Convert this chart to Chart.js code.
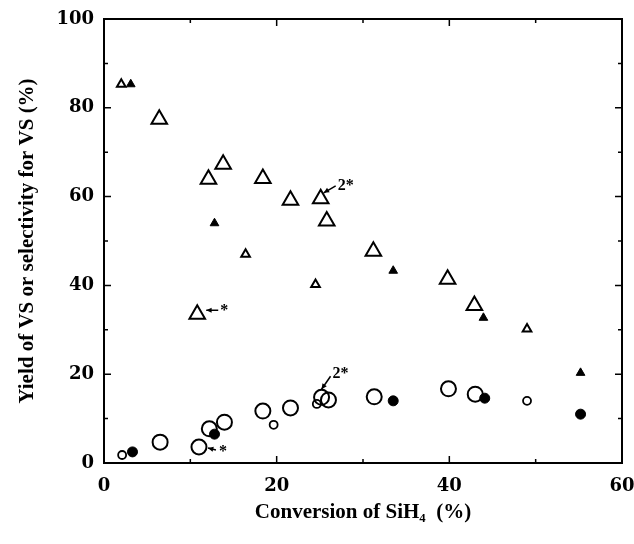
<!DOCTYPE html>
<html>
<head>
<meta charset="utf-8">
<title>Yield of VS vs conversion of SiH4</title>
<script src="https://cdn.jsdelivr.net/npm/chart.js@4"></script>
<style>
    body { margin: 0; background: #fff; }
    canvas { display: block; }
</style>
</head>
<body>
<canvas id="chart" width="634" height="544"></canvas>
<script>
"use strict"

// selectivity for VS (triangles)
var bigTriX    = [6.4, 12.1, 13.8, 18.4, 21.6, 25.1, 25.8, 31.2, 39.8, 42.9, 10.8];
var bigTriY    = [77.4, 63.9, 67.3, 64.1, 59.2, 59.5, 54.5, 47.7, 41.4, 35.5, 33.5];
var smallTriX  = [2.0, 16.4, 24.5, 49.0];
var smallTriY  = [85.3, 47.0, 40.2, 30.2];
var filledTriX = [3.1, 12.8, 33.5, 43.95, 55.2];
var filledTriY = [85.3, 54.0, 43.3, 32.7, 20.3];

// yield of VS (circles)
var bigCircX    = [6.5, 12.2, 13.95, 18.4, 21.6, 25.2, 26.0, 31.3, 39.9, 43.0, 11.0];
var bigCircY    = [4.7, 7.7, 9.2, 11.7, 12.4, 14.8, 14.2, 14.9, 16.7, 15.5, 3.6];
var smallCircX  = [2.1, 19.65, 24.65, 49.0];
var smallCircY  = [1.8, 8.6, 13.3, 14.0];
var filledCircX = [3.3, 12.8, 33.5, 44.1, 55.2];
var filledCircY = [2.5, 6.5, 14.0, 14.6, 11.0];

var xTicks = [0, 20, 40, 60];
var yTicks = [0, 20, 40, 60, 80, 100];

// notes: dataset index, point index, label
var notes = [
    {ds: 0, idx: 5, text: "2*", tip: [3, -6], tail: [15, -13], at: [17, -13]},
    {ds: 3, idx: 5, text: "2*", tip: [0, -8], tail: [9, -21], at: [11, -23]},
    {ds: 0, idx: 10, text: "*", tip: [9, -4], tail: [21, -4], at: [23, -3]},
    {ds: 3, idx: 10, text: "*", tip: [9, 1], tail: [17, 3], at: [20, 5]}
];

var FONT = "'Liberation Serif', 'DejaVu Serif', serif";
var TICKFONT = "'DejaVu Serif', 'Liberation Serif', serif";

function toPoints(xs, ys){
    var arr = [];
    for (var i in xs){
        arr.push({x: xs[i], y: ys[i]});
    }
    return arr;
}

function makeSet(xs, ys, style, radius, filled, bw){
    return {
        data: toPoints(xs, ys),
        pointStyle: style,
        pointRadius: radius,
        pointHoverRadius: radius,
        borderColor: "#000",
        backgroundColor: filled ? "#000" : "rgba(0,0,0,0)",
        pointBorderWidth: bw,
        showLine: false
    };
}

function drawArrow(ctx, x1, y1, x2, y2){
    var ang = Math.atan2(y2 - y1, x2 - x1);
    ctx.beginPath();
    ctx.moveTo(x1, y1);
    ctx.lineTo(x2, y2);
    ctx.stroke();
    ctx.beginPath();
    ctx.moveTo(x2, y2);
    ctx.lineTo(x2 - 6 * Math.cos(ang - 0.45), y2 - 6 * Math.sin(ang - 0.45));
    ctx.lineTo(x2 - 6 * Math.cos(ang + 0.45), y2 - 6 * Math.sin(ang + 0.45));
    ctx.closePath();
    ctx.fill();
}

var framePlugin = {
    id: "frame",
    afterDraw: function(chart){
        var ctx = chart.ctx;
        var a = chart.chartArea;
        var xs = chart.scales.x;
        var ys = chart.scales.y;
        ctx.save();
        ctx.strokeStyle = "#000";
        ctx.fillStyle = "#000";
        ctx.lineWidth = 2;
        ctx.strokeRect(a.left, a.top, a.right - a.left, a.bottom - a.top);

        // inward ticks on all four sides
        ctx.lineWidth = 1.5;
        ctx.beginPath();
        for (var i in xs.ticks){
            var v = xs.ticks[i].value;
            var len = (v % 20 == 0) ? 7 : 4;
            var px = xs.getPixelForValue(v);
            ctx.moveTo(px, a.bottom);
            ctx.lineTo(px, a.bottom - len);
            ctx.moveTo(px, a.top);
            ctx.lineTo(px, a.top + len);
        }
        for (var j in ys.ticks){
            var w = ys.ticks[j].value;
            var l2 = (w % 20 == 0) ? 7 : 4;
            var py = ys.getPixelForValue(w);
            ctx.moveTo(a.left, py);
            ctx.lineTo(a.left + l2, py);
            ctx.moveTo(a.right, py);
            ctx.lineTo(a.right - l2, py);
        }
        ctx.stroke();

        // arrows with labels
        ctx.lineWidth = 1.5;
        ctx.font = "bold 16px " + FONT;
        ctx.textAlign = "left";
        ctx.textBaseline = "middle";
        for (var k in notes){
            var n = notes[k];
            var pt = chart.getDatasetMeta(n.ds).data[n.idx];
            if(!pt){
                continue;
            }
            drawArrow(ctx, pt.x + n.tail[0], pt.y + n.tail[1], pt.x + n.tip[0], pt.y + n.tip[1]);
            ctx.fillText(n.text, pt.x + n.at[0], pt.y + n.at[1]);
        }
        ctx.restore();
    }
};

var chart = new Chart(document.getElementById("chart"), {
    type: "scatter",
    data: {
        datasets: [
            makeSet(bigTriX, bigTriY, "triangle", 9, false, 2),
            makeSet(smallTriX, smallTriY, "triangle", 5, false, 2),
            makeSet(filledTriX, filledTriY, "triangle", 5, true, 1),
            makeSet(bigCircX, bigCircY, "circle", 7.5, false, 2),
            makeSet(smallCircX, smallCircY, "circle", 4, false, 1.8),
            makeSet(filledCircX, filledCircY, "circle", 5, true, 1)
        ]
    },
    options: {
        responsive: false,
        animation: false,
        devicePixelRatio: 1,
        layout: {padding: {top: 19, right: 12, left: 0, bottom: 0}},
        plugins: {
            legend: {display: false},
            tooltip: {enabled: false}
        },
        scales: {
            x: {
                type: "linear",
                min: 0,
                max: 60,
                afterFit: function(scale){
                    scale.height = 81;
                    scale.paddingLeft = 0;
                    scale.paddingRight = 0;
                },
                border: {display: true, color: "#000", width: 2},
                grid: {display: false, drawTicks: false},
                ticks: {
                    stepSize: 10,
                    autoSkip: false,
                    maxRotation: 0,
                    padding: 13,
                    color: "#000",
                    font: {family: TICKFONT, size: 18, weight: "bold"},
                    callback: function(v){
                        return xTicks.includes(v) ? String(v) : "";
                    }
                },
                title: {
                    display: true,
                    text: "Conversion of SiH\u2084  (%)",
                    color: "#000",
                    font: {family: FONT, size: 21, weight: "bold"},
                    padding: {top: 0, bottom: 19}
                }
            },
            y: {
                type: "linear",
                min: 0,
                max: 100,
                afterFit: function(scale){
                    scale.width = 104;
                    scale.paddingTop = 0;
                    scale.paddingBottom = 0;
                },
                border: {display: true, color: "#000", width: 2},
                grid: {display: false, drawTicks: false},
                ticks: {
                    stepSize: 10,
                    autoSkip: false,
                    padding: 10,
                    color: "#000",
                    font: {family: TICKFONT, size: 18, weight: "bold"},
                    callback: function(v){
                        return yTicks.includes(v) ? String(v) : "";
                    }
                },
                title: {
                    display: true,
                    text: "Yield of VS or selectivity for VS (%)",
                    color: "#000",
                    font: {family: FONT, size: 21, weight: "bold"},
                    padding: {top: 15, bottom: 0}
                }
            }
        }
    },
    plugins: [framePlugin]
});
</script>
</body>
</html>
